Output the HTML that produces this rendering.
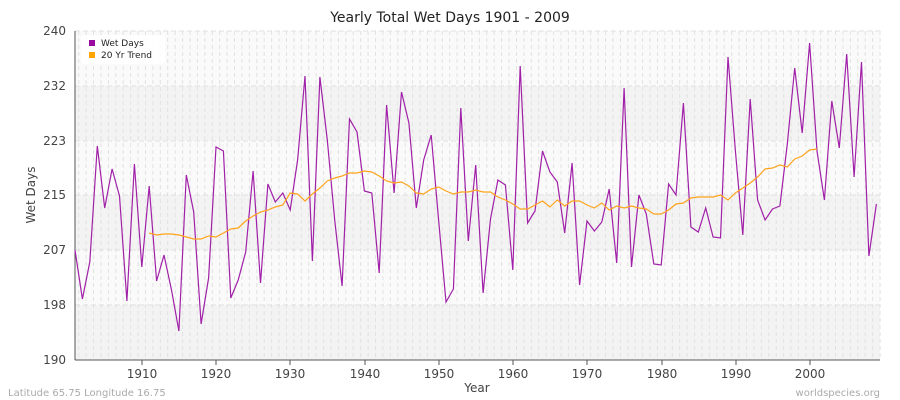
<!DOCTYPE html>
<html><head><meta charset="utf-8"><style>body{margin:0;background:#fff}svg{display:block;font-family:"DejaVu Sans","Liberation Sans",sans-serif}</style></head><body>
<svg width="900" height="400" viewBox="0 0 900 400">
<rect width="900" height="400" fill="#fff"/>
<rect x="75" y="31" width="805" height="329" fill="#fafafa"/>
<rect x="75" y="86" width="805" height="55" fill="#f3f3f3"/>
<rect x="75" y="195" width="805" height="55" fill="#f3f3f3"/>
<rect x="75" y="305" width="805" height="55" fill="#f3f3f3"/>
<g id="vg" stroke="#e2e2e2" stroke-dasharray="4,3" stroke-width="1"></g>
<g stroke="#e0e0e0" stroke-width="1" stroke-dasharray="5,3">
<line x1="75" x2="880" y1="31" y2="31"/><line x1="75" x2="880" y1="86" y2="86"/><line x1="75" x2="880" y1="141" y2="141"/><line x1="75" x2="880" y1="195" y2="195"/><line x1="75" x2="880" y1="250" y2="250"/><line x1="75" x2="880" y1="305" y2="305"/>
</g>
<line x1="75" y1="31" x2="75" y2="360" stroke="#555"/>
<line x1="75" y1="360" x2="880" y2="360" stroke="#555"/>
<g font-size="12" fill="#444" text-anchor="end">
<text x="66" y="35">240</text><text x="66" y="90">232</text><text x="66" y="145">223</text><text x="66" y="199">215</text><text x="66" y="254">207</text><text x="66" y="309">198</text><text x="66" y="364">190</text>
</g>
<g stroke="#555"><line x1="142" x2="142" y1="360" y2="365"/><line x1="216" x2="216" y1="360" y2="365"/><line x1="290" x2="290" y1="360" y2="365"/><line x1="365" x2="365" y1="360" y2="365"/><line x1="439" x2="439" y1="360" y2="365"/><line x1="513" x2="513" y1="360" y2="365"/><line x1="587" x2="587" y1="360" y2="365"/><line x1="662" x2="662" y1="360" y2="365"/><line x1="736" x2="736" y1="360" y2="365"/><line x1="810" x2="810" y1="360" y2="365"/></g>
<g font-size="12" fill="#444" text-anchor="middle">
<text x="142" y="378">1910</text><text x="216" y="378">1920</text><text x="290" y="378">1930</text><text x="365" y="378">1940</text><text x="439" y="378">1950</text><text x="513" y="378">1960</text><text x="587" y="378">1970</text><text x="662" y="378">1980</text><text x="736" y="378">1990</text><text x="810" y="378">2000</text>
</g>
<text x="450" y="22" font-size="14" text-anchor="middle" fill="#222">Yearly Total Wet Days 1901 - 2009</text>
<text x="477" y="392" font-size="12" text-anchor="middle" fill="#444">Year</text>
<text x="35" y="195" font-size="12" text-anchor="middle" fill="#444" transform="rotate(-90 35 195)">Wet Days</text>
<text x="8" y="396" font-size="10" fill="#aaa">Latitude 65.75 Longitude 16.75</text>
<text x="880" y="396" font-size="10" fill="#aaa" text-anchor="end">worldspecies.org</text>
<polyline id="wet" fill="none" stroke="#a020a8" stroke-width="1.2"/>
<polyline id="tr" fill="none" stroke="#ffa31a" stroke-width="1.2"/>
<rect x="81" y="35" width="84" height="29" rx="4" fill="#fff" opacity="0.9"/>
<rect x="89" y="40" width="6" height="6" fill="#9b0a9e"/>
<text x="101" y="46" font-size="9" fill="#222">Wet Days</text>
<rect x="89" y="52" width="6" height="6" fill="#ffa500"/>
<text x="101" y="58" font-size="9" fill="#222">20 Yr Trend</text>
</svg>
<script>
var w=[250,299,262,146,208,169,196,301,164,267,186,281,255,290,331,175,212,324,278,147,151,298,280,252,171,283,184,202,193,210,160,76,261,77,140,220,286,119,132,191,193,273,105,193,92,123,208,160,135,220,302,289,108,241,165,293,219,180,185,270,66,223,211,151,172,182,233,163,285,221,231,222,189,263,88,267,195,214,264,265,184,195,103,227,232,208,237,238,57,151,235,99,200,220,209,206,144,68,133,43,151,200,101,148,54,177,62,256,204];
var t=[233,235,234,234,235,237,239,239,236,237,233,229,228,221,216,212,210,207,205,193,194,201,194,188,181,178,176,173,173,171,172,176,181,183,182,186,193,194,189,187,191,194,192,192,190,192,192,197,200,204,209,209,205,201,207,200,206,201,201,205,208,203,210,206,208,206,208,209,214,214,210,204,203,198,197,197,197,195,200,193,188,183,177,169,168,165,167,159,156,150,149];
function X(i){return 75+i*7.42}
document.getElementById('wet').setAttribute('points',w.map(function(v,i){return X(i).toFixed(1)+','+v}).join(' '));
document.getElementById('tr').setAttribute('points',t.map(function(v,i){return X(i+10).toFixed(1)+','+v}).join(' '));
var g=document.getElementById('vg'),s='';
for(var i=0;i<109;i++){var x=X(i)+3.7;s+='<line x1="'+x.toFixed(1)+'" x2="'+x.toFixed(1)+'" y1="31" y2="360"/>';}
g.innerHTML=s;
</script>
</body></html>
